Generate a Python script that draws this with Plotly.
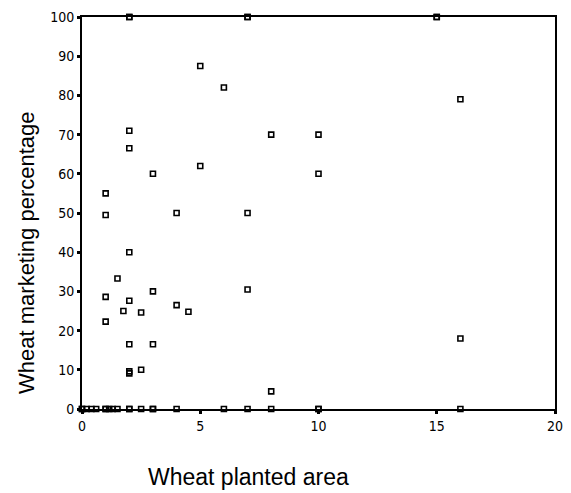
import plotly.graph_objects as go

# Wheat planted area (x) and wheat marketing percentage (y)
planted_area = [
    2, 2, 7, 7, 15, 15,
    5, 6, 16, 2, 10, 8, 2, 5, 3, 10, 1, 1, 4, 7,
    2, 1.5, 7, 3, 1, 2, 4, 1.75, 4.5, 2.5, 1, 2, 3, 16, 2.5, 2, 2, 8,
    0, 0, 0.2, 0.4, 0.6, 1, 1, 1.15, 1.3, 1.5, 2, 2, 2.5, 3, 3, 4, 6, 7, 8, 10, 10, 16,
]
marketing_pct = [
    100, 100, 100, 100, 100, 100,
    87.5, 82, 79, 71, 70, 70, 66.5, 62, 60, 60, 55, 49.5, 50, 50,
    40, 33.3, 30.5, 30, 28.6, 27.6, 26.5, 25, 24.8, 24.6, 22.3, 16.5, 16.5, 18, 10, 9.1, 9.6, 4.5,
    0, 0, 0, 0, 0, 0, 0, 0, 0, 0, 0, 0, 0, 0, 0, 0, 0, 0, 0, 0, 0, 0,
]

x_ticks = [0, 5, 10, 15, 20]
y_ticks = [0, 10, 20, 30, 40, 50, 60, 70, 80, 90, 100]

fig = go.Figure()
fig.add_trace(go.Scatter(
    x=planted_area, y=marketing_pct, mode="markers",
    marker=dict(symbol="square-open", size=5, color="black", line=dict(width=1.6)),
    cliponaxis=False, showlegend=False,
))

tick_font = dict(family="Liberation Sans Narrow, DejaVu Sans Condensed, Arial", size=14, color="black")
fig.update_xaxes(
    range=[0, 20], tickvals=x_ticks, ticks="outside", ticklen=3, tickwidth=3, tickcolor="black",
    showline=True, linewidth=2, linecolor="black", mirror=True, showgrid=False, zeroline=False,
    tickfont=tick_font,
)
fig.update_yaxes(
    range=[0, 100], tickvals=y_ticks, ticks="outside", ticklen=3, tickwidth=3, tickcolor="black",
    showline=True, linewidth=2, linecolor="black", mirror=True, showgrid=False, zeroline=False,
    tickfont=tick_font,
)
fig.update_layout(
    width=571, height=493,
    margin=dict(l=82, r=8, t=17, b=84),
    plot_bgcolor="white", paper_bgcolor="white",
    font=dict(family="Liberation Sans, Arial", color="black"),
    annotations=[
        dict(text="Wheat planted area", xref="paper", yref="paper",
             x=(251 - 82) / 481, y=-(477 - 409) / 392,
             xanchor="center", yanchor="middle", showarrow=False,
             font=dict(size=23, family="Liberation Sans, Arial", color="black")),
        dict(text="Wheat marketing percentage", xref="paper", yref="paper",
             x=-(82 - 25) / 481, y=(409 - 252) / 392,
             xanchor="center", yanchor="middle", showarrow=False, textangle=-90,
             font=dict(size=22, family="Liberation Sans, Arial", color="black")),
    ],
)

fig.write_html("out.html")
